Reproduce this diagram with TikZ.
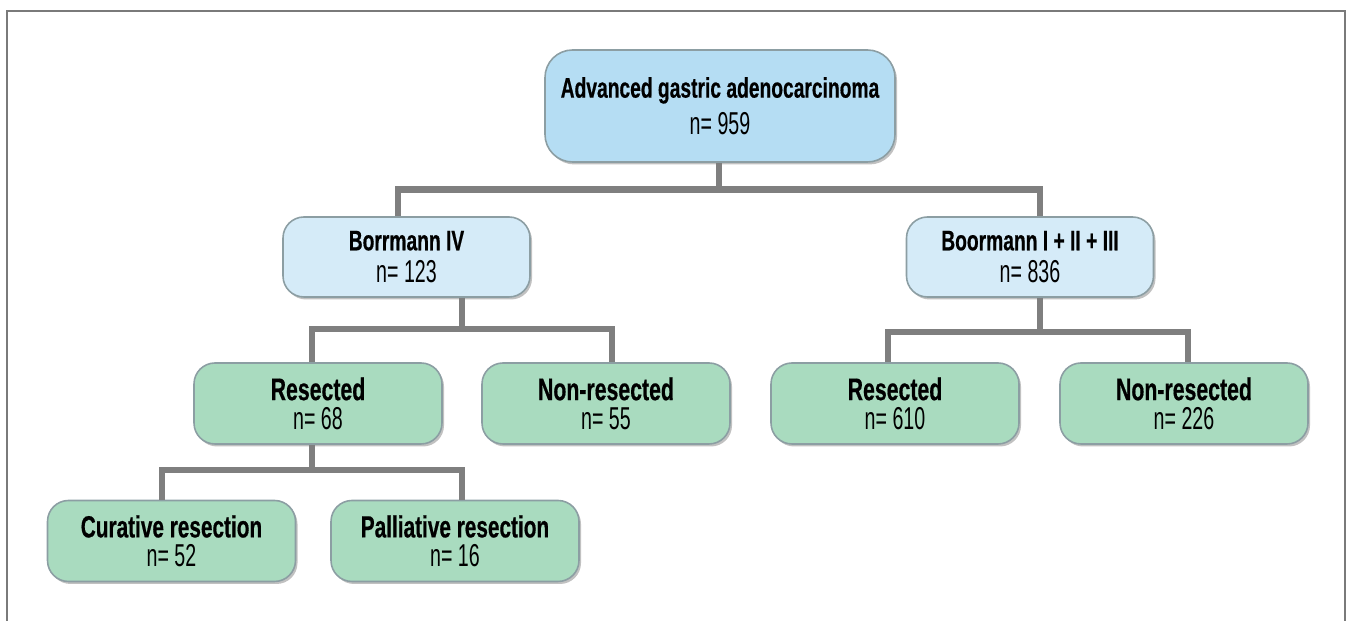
\documentclass[tikz,border=0pt]{standalone}
\usepackage{fontspec}
\setmainfont{Liberation Sans}[FakeStretch=0.68,BoldFeatures={FakeBold=0.5}]
\newfontfamily\countfont{Liberation Sans}[FakeStretch=0.62]
\usetikzlibrary{shadows}
\definecolor{FCRoot}{HTML}{B5DDF3}
\definecolor{FCBlue}{HTML}{D5EBF8}
\definecolor{FCGreen}{HTML}{A9DBBF}
\definecolor{FCEdge}{HTML}{8C9EA3}
\definecolor{FCLink}{HTML}{7F7F7F}
\definecolor{FCFrame}{HTML}{7A7A7A}

\begin{document}
\begin{tikzpicture}[x=1cm,y=1cm,
  box/.style={draw=FCEdge,line width=0.9pt,rounded corners=0.42cm,align=center,inner sep=0pt,
    drop shadow={shadow xshift=0.04cm,shadow yshift=-0.05cm,opacity=0.35,fill=black!70}},
  rootbox/.style={box,fill=FCRoot,minimum width=7.0cm,minimum height=2.24cm,rounded corners=0.55cm,
    font=\fontsize{18}{21}\selectfont},
  groupbox/.style={box,fill=FCBlue,minimum width=4.94cm,minimum height=1.6cm,
    font=\fontsize{18}{18.5}\selectfont},
  leafbox/.style={box,fill=FCGreen,minimum width=4.96cm,minimum height=1.62cm,
    font=\fontsize{18}{16.5}\selectfont},
  link/.style={draw=FCLink,line width=3.6pt},
  frameline/.style={draw=FCFrame,line width=1.1pt}]
\path[use as bounding box] (0,0) rectangle (26.92,12.42);
\draw[frameline] (0.14,0) -- (0.14,12.20) -- (26.90,12.20) -- (26.90,0);
% boxes
\node[rootbox] (root) at (14.40,10.30) {{\bfseries\fontsize{16.1}{16}\selectfont Advanced gastric adenocarcinoma}\\{\countfont n= 959}};
\node[groupbox] (bor4) at (8.13,7.28) {{\bfseries\fontsize{16.1}{16}\selectfont Borrmann IV}\\{\countfont n= 123}};
\node[groupbox] (boor) at (20.60,7.28) {{\bfseries\fontsize{16.1}{16}\selectfont Boormann I + II + III}\\{\countfont n= 836}};
\node[leafbox] (resL) at (6.36,4.35) {{\bfseries\fontsize{17.8}{16}\selectfont Resected}\\{\countfont n= 68}};
\node[leafbox] (nresL) at (12.12,4.35) {{\bfseries\fontsize{17.8}{16}\selectfont Non-resected}\\{\countfont n= 55}};
\node[leafbox] (resR) at (17.90,4.35) {{\bfseries\fontsize{17.8}{16}\selectfont Resected}\\{\countfont n= 610}};
\node[leafbox] (nresR) at (23.68,4.35) {{\bfseries\fontsize{17.8}{16}\selectfont Non-resected}\\{\countfont n= 226}};
\node[leafbox] (cur) at (3.43,1.60) {{\bfseries\fontsize{17.4}{16}\selectfont Curative resection}\\{\countfont n= 52}};
\node[leafbox] (pal) at (9.10,1.60) {{\bfseries\fontsize{17.4}{16}\selectfont Palliative resection}\\{\countfont n= 16}};
% junctions
\coordinate (jroot) at (14.38,8.63);
\coordinate (jbor4) at (9.24,5.84);
\coordinate (jboor) at (20.80,5.78);
\coordinate (jres) at (6.24,3.02);
% connectors
\draw[link] (root.south -| jroot) -- (jroot);
\draw[link] ([xshift=-0.17cm]bor4.north) |- (jroot) -| ([xshift=0.20cm]boor.north);
\draw[link] (bor4.south -| jbor4) -- (jbor4);
\draw[link] ([xshift=-0.12cm]resL.north) |- (jbor4) -| ([xshift=0.12cm]nresL.north);
\draw[link] (boor.south -| jboor) -- (jboor);
\draw[link] ([xshift=-0.14cm]resR.north) |- (jboor) -| ([xshift=0.08cm]nresR.north);
\draw[link] (resL.south -| jres) -- (jres);
\draw[link] ([xshift=-0.19cm]cur.north) |- (jres) -| ([xshift=0.14cm]pal.north);
\end{tikzpicture}
\end{document}
